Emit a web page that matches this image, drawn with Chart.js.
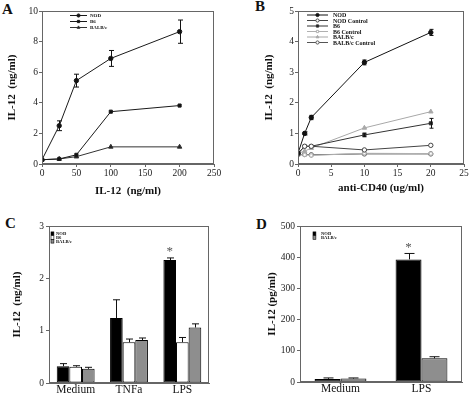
<!DOCTYPE html>
<html>
<head>
<meta charset="utf-8">
<script src="https://cdn.jsdelivr.net/npm/chart.js@4.4.1/dist/chart.umd.min.js"></script>
<style>
body { margin:0; background:#fff; width:474px; height:396px; overflow:hidden; position:relative; font-family:"Liberation Serif", serif; }
canvas { position:absolute; }
.tag { position:absolute; font-weight:bold; font-size:15px; line-height:1; color:#111; }
</style>
</head>
<body>
<div class="tag" style="left:2px;top:2px">A</div>
<div class="tag" style="left:255px;top:-1px">B</div>
<div class="tag" style="left:5px;top:216px">C</div>
<div class="tag" style="left:256px;top:217px">D</div>
<canvas id="cA" width="237" height="200" style="left:0;top:0"></canvas>
<canvas id="cB" width="237" height="200" style="left:237px;top:0"></canvas>
<canvas id="cC" width="237" height="200" style="left:0;top:196px"></canvas>
<canvas id="cD" width="237" height="200" style="left:237px;top:196px"></canvas>
<script>
// panel A - IL-12 dose
var aDose = [0, 25, 50, 100, 200];
var aNOD = [0.28, 2.5, 5.45, 6.9, 8.65];
var aNODErr = [0, 0.32, 0.42, 0.52, 0.76];
var aB6 = [0.28, 0.33, 0.6, 3.42, 3.82];
var aBALB = [0.28, 0.33, 0.48, 1.12, 1.12];

// panel B - anti-CD40
var bDose = [0, 1, 2, 10, 20];
var bNOD = [0.35, 1.0, 1.52, 3.32, 4.3];
var bNODErr = [0, 0.05, 0.07, 0.08, 0.1];
var bNODCtl = [0.33, 0.58, 0.58, 0.46, 0.61];
var bB6 = [0.35, 0.58, 0.58, 0.95, 1.33];
var bB6Err = [0, 0, 0, 0.06, 0.16];
var bB6Ctl = [0.3, 0.3, 0.28, 0.35, 0.34];
var bBALB = [0.35, 0.42, 0.52, 1.18, 1.71];
var bBALBCtl = [0.3, 0.31, 0.3, 0.33, 0.33];

// panel C
var cCats = ['Medium', 'TNFa', 'LPS'];
var cNOD = [0.32, 1.24, 2.35];
var cNODErr = [0.05, 0.35, 0.04];
var cB6 = [0.31, 0.78, 0.78];
var cB6Err = [0.02, 0.06, 0.09];
var cBALB = [0.27, 0.82, 1.06];
var cBALBErr = [0.03, 0.04, 0.07];
var cStar = [false, false, true];

// panel D
var dCats = ['Medium', 'LPS'];
var dNOD = [10, 393];
var dNODErr = [3, 19];
var dBALB = [11, 76];
var dBALBErr = [2, 5];
var dStar = [false, true];

var serif = '"Liberation Serif", "Times New Roman", serif';

function pts(xs, ys) {
  return xs.map(function(x, i) { return {x: x, y: ys[i]}; });
}

// box round the plot area
var frame = {
  id: 'frame',
  afterDraw: function(chart) {
    var ca = chart.chartArea, ctx = chart.ctx;
    ctx.save();
    ctx.strokeStyle = '#666';
    ctx.lineWidth = 1;
    ctx.strokeRect(Math.round(ca.left) + 0.5, Math.round(ca.top) + 0.5, Math.round(ca.right - ca.left) - 1, Math.round(ca.bottom - ca.top) - 1);
    ctx.restore();
  }
};

var errBars = {
  id: 'errBars',
  afterDatasetsDraw: function(chart, args, o) {
    var ctx = chart.ctx, ys = chart.scales.y;
    ctx.save();
    ctx.lineWidth = 1;
    chart.data.datasets.forEach(function(ds, i) {
      if (!ds.err) return;
      var meta = chart.getDatasetMeta(i);
      meta.data.forEach(function(el, j) {
        var e = ds.err[j];
        if (!e) return;
        var d = ds.data[j];
        var v = typeof d === 'number' ? d : d.y;
        var top = ys.getPixelForValue(v + e);
        var bot = o.both ? ys.getPixelForValue(v - e) : el.y;
        var x = Math.round(el.x) + 0.5;
        ctx.strokeStyle = ds.errColor || '#111';
        ctx.beginPath();
        ctx.moveTo(x, top); ctx.lineTo(x, bot);
        ctx.moveTo(x - o.cap, top); ctx.lineTo(x + o.cap, top);
        if (o.both) { ctx.moveTo(x - o.cap, bot); ctx.lineTo(x + o.cap, bot); }
        ctx.stroke();
        if (ds.star && ds.star[j]) {
          ctx.fillStyle = '#555';
          ctx.font = '13px ' + serif;
          ctx.textAlign = 'center';
          ctx.textBaseline = 'middle';
          ctx.fillText('*', el.x, top - 6);
        }
      });
    });
    ctx.restore();
  }
};

var miniLegend = {
  id: 'miniLegend',
  afterDraw: function(chart, args, o) {
    if (o.x === undefined) return;
    var ctx = chart.ctx;
    ctx.save();
    ctx.font = 'bold ' + o.size + 'px ' + serif;
    ctx.textBaseline = 'middle';
    chart.data.datasets.forEach(function(ds, i) {
      var y = o.y + i * o.dy;
      if (chart.config.type === 'bar') {
        ctx.fillStyle = ds.backgroundColor;
        ctx.fillRect(o.x, y - o.box / 2, o.box * 0.8, o.box);
        ctx.strokeStyle = '#000';
        ctx.lineWidth = 0.6;
        ctx.strokeRect(o.x, y - o.box / 2, o.box * 0.8, o.box);
      } else {
        ctx.strokeStyle = ds.borderColor;
        ctx.lineWidth = 1;
        ctx.beginPath();
        ctx.moveTo(o.x, y); ctx.lineTo(o.x + o.len, y);
        ctx.stroke();
        ctx.fillStyle = ds.pointBackgroundColor;
        Chart.helpers.drawPoint(ctx, {pointStyle: ds.pointStyle, radius: 1.6, borderWidth: 0.8, rotation: 0}, o.x + o.len / 2, y);
      }
      ctx.fillStyle = '#111';
      ctx.fillText(ds.label, o.tx, y + 0.5);
    });
    ctx.restore();
  }
};

function tickFont(sz) { return {family: serif, size: sz}; }

function lineScales(xmax, xstep, ymax, ystep, yw, ytitlePad, xtitle, xtitlePad) {
  return {
    x: {
      type: 'linear', min: 0, max: xmax,
      ticks: {stepSize: xstep, font: tickFont(9.5), color: '#222', padding: 1, maxRotation: 0},
      grid: {display: true, drawOnChartArea: false, tickLength: 3, color: '#666'},
      border: {color: '#666'},
      title: {display: true, text: xtitle, font: {family: serif, size: 11, weight: 'bold'}, color: '#111', padding: {top: 0, bottom: xtitlePad}},
      afterFit: function(s) { s.height = 36; }
    },
    y: {
      min: 0, max: ymax,
      ticks: {stepSize: ystep, font: tickFont(9.5), color: '#222', padding: 1},
      grid: {display: true, drawOnChartArea: false, tickLength: 3, color: '#666'},
      border: {color: '#666'},
      title: {display: true, text: 'IL-12  (ng/ml)', font: {family: serif, size: 11, weight: 'bold'}, color: '#111', padding: {top: ytitlePad, bottom: 0}},
      afterFit: function(s) { s.width = yw; }
    }
  };
}

function lineSet(label, xs, ys, color, style, fill, err) {
  return {
    label: label, data: pts(xs, ys), err: err,
    borderColor: color, borderWidth: 1, tension: 0,
    pointStyle: style, pointRadius: style === 'triangle' ? 2.6 : 2.2,
    pointBackgroundColor: fill, pointBorderColor: color, pointBorderWidth: 1
  };
}

new Chart(document.getElementById('cA'), {
  type: 'line',
  data: {
    datasets: [
      lineSet('NOD', aDose, aNOD, '#1a1a1a', 'circle', '#111', aNODErr),
      lineSet('B6', aDose, aB6, '#1a1a1a', 'rect', '#111'),
      lineSet('BALB/c', aDose, aBALB, '#333', 'triangle', '#222')
    ]
  },
  options: {
    responsive: false, animation: false,
    layout: {padding: {top: 11, right: 23, left: 0, bottom: 0}},
    scales: lineScales(250, 50, 10, 2, 42, 5.4, 'IL-12  (ng/ml)', 2.4),
    plugins: {
      legend: {display: false}, tooltip: {enabled: false},
      errBars: {both: true, cap: 2.5},
      miniLegend: {x: 70, y: 15.5, dy: 6, len: 17, tx: 90, size: 5}
    }
  },
  plugins: [frame, errBars, miniLegend]
});

new Chart(document.getElementById('cB'), {
  type: 'line',
  data: {
    datasets: [
      lineSet('NOD', bDose, bNOD, '#111', 'circle', '#111', bNODErr),
      lineSet('NOD Control', bDose, bNODCtl, '#444', 'circle', '#fff'),
      lineSet('B6', bDose, bB6, '#333', 'rect', '#222', bB6Err),
      lineSet('B6 Control', bDose, bB6Ctl, '#b0b0b0', 'rect', '#fff'),
      lineSet('BALB/c', bDose, bBALB, '#a8a8a8', 'triangle', '#a8a8a8'),
      lineSet('BALB/c Control', bDose, bBALBCtl, '#555', 'circle', '#fff')
    ]
  },
  options: {
    responsive: false, animation: false,
    layout: {padding: {top: 11, right: 10, left: 0, bottom: 0}},
    scales: lineScales(25, 5, 5, 1, 61, 25.4, 'anti-CD40 (ug/ml)', 5.4),
    plugins: {
      legend: {display: false}, tooltip: {enabled: false},
      errBars: {both: true, cap: 2},
      miniLegend: {x: 70, y: 15, dy: 5.5, len: 21, tx: 96, size: 6}
    }
  },
  plugins: [frame, errBars, miniLegend]
});

function barScales(cats, ymax, ystep, yw, ytitle, ytitlePad, xh) {
  return {
    x: {
      type: 'category', labels: cats,
      ticks: {font: tickFont(11.5), color: '#111', padding: 0},
      grid: {display: false, drawTicks: false, tickLength: 0},
      border: {color: '#666'},
      afterFit: function(s) { s.height = xh; }
    },
    y: {
      min: 0, max: ymax,
      ticks: {stepSize: ystep, font: tickFont(9.5), color: '#222', padding: 2},
      grid: {display: true, drawOnChartArea: false, tickLength: 3, color: '#666'},
      border: {color: '#666'},
      title: {display: true, text: ytitle, font: {family: serif, size: 11, weight: 'bold'}, color: '#111', padding: {top: ytitlePad, bottom: 0}},
      afterFit: function(s) { s.width = yw; }
    }
  };
}

function barSet(label, vals, fill, err, star) {
  return {
    label: label, data: vals, err: err, star: star,
    backgroundColor: fill, borderColor: '#000', borderWidth: 1, borderSkipped: false,
    categoryPercentage: 0.71, barPercentage: 1
  };
}

new Chart(document.getElementById('cC'), {
  type: 'bar',
  data: {
    labels: cCats,
    datasets: [
      barSet('NOD', cNOD, '#000', cNODErr, cStar),
      barSet('B6', cB6, '#fff', cB6Err),
      barSet('BALB/c', cBALB, '#8e8e8e', cBALBErr)
    ]
  },
  options: {
    responsive: false, animation: false,
    layout: {padding: {top: 30, right: 28, left: 0, bottom: 0}},
    scales: barScales(cCats, 3, 1, 49, 'IL-12  (ng/ml)', 10.4, 13),
    plugins: {
      legend: {display: false}, tooltip: {enabled: false},
      errBars: {both: false, cap: 3.5},
      miniLegend: {x: 51, y: 37.7, dy: 3.8, box: 3.6, tx: 56, size: 4.6}
    }
  },
  plugins: [frame, errBars, miniLegend]
});

var dChart = new Chart(document.getElementById('cD'), {
  type: 'bar',
  data: {
    labels: dCats,
    datasets: [
      barSet('NOD', dNOD, '#000', dNODErr, dStar),
      barSet('BALB/c', dBALB, '#8e8e8e', dBALBErr)
    ]
  },
  options: {
    responsive: false, animation: false,
    layout: {padding: {top: 30, right: 12, left: 0, bottom: 0}},
    scales: barScales(dCats, 500, 100, 63, 'IL-12 (pg/ml)', 28.4, 14),
    plugins: {
      legend: {display: false}, tooltip: {enabled: false},
      errBars: {both: false, cap: 5},
      miniLegend: {x: 76, y: 37.7, dy: 3.8, box: 3.6, tx: 84, size: 4.6}
    }
  },
  plugins: [frame, errBars, miniLegend]
});
dChart.data.datasets.forEach(function(ds) { ds.categoryPercentage = 0.64; });
dChart.update();
</script>
</body>
</html>
